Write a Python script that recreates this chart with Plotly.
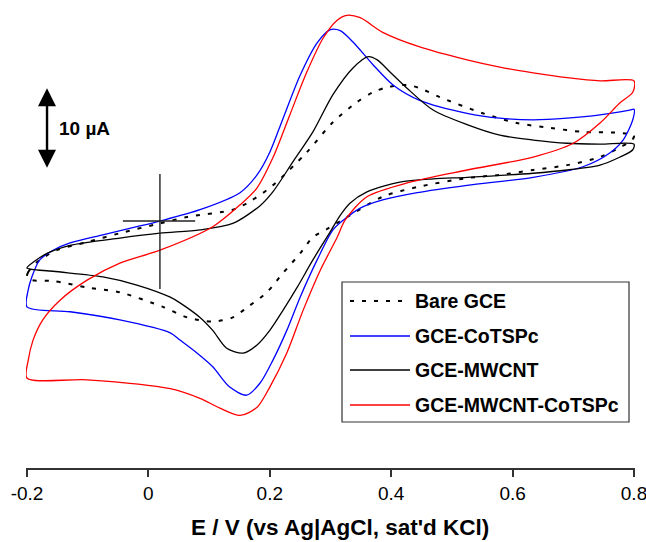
import plotly.graph_objects as go

# Cyclic voltammograms: potential E (V vs Ag|AgCl) and current I (µA).
# Each loop starts at -0.2 V, sweeps anodically to 0.8 V and returns.

bare_E = [-0.200, -0.198, -0.184, -0.151, -0.101, -0.047, 0.019, 0.064, 0.139, 0.167,
          0.205, 0.261, 0.304, 0.344, 0.370, 0.393, 0.426, 0.447, 0.480, 0.551,
          0.607, 0.662, 0.716, 0.772, 0.800,
          0.797, 0.777, 0.744, 0.690, 0.634, 0.579, 0.525, 0.443, 0.386, 0.332,
          0.294, 0.271, 0.250, 0.222, 0.195, 0.162, 0.139, 0.106, 0.064, 0.024,
          -0.047, -0.101, -0.157, -0.192, -0.200]
bare_I = [-6.9, -6.3, -5.1, -3.6, -2.6, -1.5, -0.3, 0.5, 1.4, 2.4,
          4.4, 8.5, 12.2, 14.7, 15.9, 16.5, 16.8, 16.4, 15.3, 13.3,
          12.1, 11.5, 11.0, 10.9, 10.6,
          10.0, 9.1, 7.9, 6.9, 6.3, 5.7, 5.3, 4.2, 3.0, 0.7,
          -1.0, -2.0, -4.0, -6.4, -8.8, -10.7, -11.9, -12.4, -11.9, -10.6,
          -8.8, -8.2, -7.4, -7.3, -6.9]

cotspc_E = [-0.200, -0.198, -0.192, -0.179, -0.157, -0.129, -0.075, -0.019, 0.019, 0.085,
            0.151, 0.179, 0.200, 0.222, 0.250, 0.278, 0.299, 0.316, 0.337, 0.370,
            0.403, 0.447, 0.525, 0.579, 0.634, 0.690, 0.744, 0.793, 0.800,
            0.798, 0.782, 0.760, 0.716, 0.634, 0.525, 0.443, 0.386, 0.349, 0.321,
            0.304, 0.278, 0.250, 0.228, 0.205, 0.184, 0.162, 0.134, 0.106, 0.080,
            0.052, 0.036, -0.047, -0.129, -0.200]
cotspc_I = [-10.6, -8.5, -6.9, -4.8, -3.6, -2.7, -1.7, -0.7, 0.0, 1.4,
            3.5, 5.7, 8.5, 12.7, 18.0, 22.0, 23.6, 23.5, 22.1, 19.3,
            16.8, 14.9, 13.3, 12.7, 12.5, 12.7, 13.1, 13.7, 13.8,
            12.5, 10.0, 8.4, 6.7, 5.4, 4.4, 3.5, 2.6, 1.6, 0.1,
            -1.1, -4.8, -9.4, -13.5, -17.2, -20.0, -21.5, -20.5, -18.0, -16.3,
            -14.7, -13.8, -12.2, -11.2, -10.6]

mwcnt_E = [-0.200, -0.190, -0.167, -0.129, -0.047, 0.019, 0.085, 0.139, 0.184, 0.205,
           0.238, 0.271, 0.304, 0.337, 0.362, 0.377, 0.398, 0.426, 0.469, 0.525,
           0.579, 0.634, 0.690, 0.744, 0.800,
           0.798, 0.777, 0.744, 0.690, 0.634, 0.525, 0.469, 0.414, 0.360, 0.332,
           0.316, 0.299, 0.271, 0.245, 0.222, 0.200, 0.179, 0.156, 0.129, 0.106,
           0.085, 0.052, 0.036, -0.019, -0.075, -0.157, -0.200]
mwcnt_I = [-5.8, -5.1, -4.0, -3.0, -2.1, -1.5, -1.1, -0.3, 1.9, 3.6,
           7.3, 11.0, 15.6, 18.9, 20.3, 19.9, 18.4, 16.4, 13.7, 11.9,
           10.6, 10.0, 9.6, 9.5, 9.5,
           8.8, 7.9, 6.9, 6.3, 5.9, 5.4, 5.2, 4.8, 3.6, 2.2,
           0.7, -1.4, -4.8, -8.2, -11.0, -13.5, -15.3, -16.3, -15.7, -13.5,
           -11.9, -10.1, -9.4, -7.9, -6.9, -6.2, -5.8]

mwcnt_cotspc_E = [-0.200, -0.198, -0.190, -0.174, -0.146, -0.101, -0.047, 0.019, 0.106, 0.151,
                  0.179, 0.205, 0.233, 0.261, 0.288, 0.311, 0.327, 0.349, 0.386, 0.447,
                  0.525, 0.579, 0.634, 0.690, 0.744, 0.800,
                  0.798, 0.777, 0.744, 0.700, 0.634, 0.525, 0.431, 0.360, 0.324, 0.311,
                  0.283, 0.255, 0.228, 0.200, 0.179, 0.151, 0.118, 0.085, 0.036, -0.101,
                  -0.200]
mwcnt_cotspc_I = [-19.4, -17.2, -14.7, -12.2, -9.8, -7.3, -5.2, -3.6, -0.7, 2.0,
                  4.1, 7.8, 13.1, 18.4, 22.6, 24.8, 25.4, 25.1, 23.3, 21.5,
                  19.9, 19.0, 18.3, 17.7, 17.3, 17.3,
                  15.9, 14.6, 12.1, 9.6, 7.9, 6.3, 4.8, 3.0, 0.1, -2.0,
                  -6.1, -11.0, -16.3, -20.5, -23.0, -24.0, -23.1, -21.9, -20.7, -19.6,
                  -19.4]

series = [
    ("Bare GCE", bare_E, bare_I, "black", "4px,8px", 2.0),
    ("GCE-CoTSPc", cotspc_E, cotspc_I, "#0000ff", "solid", 1.3),
    ("GCE-MWCNT", mwcnt_E, mwcnt_I, "black", "solid", 1.3),
    ("GCE-MWCNT-CoTSPc", mwcnt_cotspc_E, mwcnt_cotspc_I, "#ff0000", "solid", 1.3),
]

x_ticks = [-0.2, 0, 0.2, 0.4, 0.6, 0.8]
x_tick_text = ["-0.2", "0", "0.2", "0.4", "0.6", "0.8"]

# current scale bar (µA) and reference cross
scale_bar = (6.4, 16.4)
cross_E, cross_I = 0.019, 0.0

FONT = "Liberation Sans, Arial, Helvetica, sans-serif"

# plot-area geometry in pixels (for paper-referenced decorations)
W, H = 646, 542
ML, MR, MT, MB = 26, 11, 5, 74
PW, PH = W - ML - MR, H - MT - MB


def px(xpix):
    return (xpix - ML) / PW


def py(ypix):
    return (H - MB - ypix) / PH


fig = go.Figure()
for name, E, I, color, dash, width in series:
    fig.add_trace(go.Scatter(
        x=E, y=I, mode="lines", name=name, showlegend=False,
        line=dict(color=color, width=width, dash=dash, shape="spline", smoothing=0.8),
    ))

# reference cross
fig.add_shape(type="line", x0=cross_E, x1=cross_E, y0=-8.4, y1=5.8,
              line=dict(color="#222", width=1.4))
fig.add_shape(type="line", x0=-0.042, x1=0.077, y0=cross_I, y1=cross_I,
              line=dict(color="#222", width=1.4))

# 10 µA scale bar with arrowheads at both ends
fig.add_annotation(x=-0.167, y=scale_bar[1], ax=-0.167, ay=scale_bar[0],
                   axref="x", ayref="y", xref="x", yref="y", text="",
                   showarrow=True, arrowhead=2, arrowside="end+start",
                   arrowsize=1.5, arrowwidth=2.4, arrowcolor="black", standoff=0,
                   startstandoff=0)
fig.add_annotation(x=-0.150, y=sum(scale_bar) / 2, xref="x", yref="y",
                   text="<b>10 µA</b>", showarrow=False, xanchor="left",
                   font=dict(family=FONT, size=19, color="black"))

# legend box
fig.add_shape(type="rect", xref="paper", yref="paper",
              x0=px(342), x1=px(629), y0=py(422), y1=py(282),
              line=dict(color="#333", width=1.2), fillcolor="white", layer="above")
row_y = [301, 336, 370, 405]
for (name, E, I, color, dash, width), ry in zip(series, row_y):
    fig.add_shape(type="line", xref="paper", yref="paper",
                  x0=px(350), x1=px(410), y0=py(ry), y1=py(ry),
                  line=dict(color=color, width=width, dash=dash), layer="above")
    fig.add_annotation(xref="paper", yref="paper", x=px(413), y=py(ry),
                       text=f"<b>{name}</b>", showarrow=False, xanchor="left",
                       yanchor="middle", font=dict(family=FONT, size=19.5, color="black"))

# x-axis title
fig.add_annotation(xref="paper", yref="paper", x=px(339.5), y=py(541),
                   text="<b>E / V (vs Ag|AgCl, sat'd KCl)</b>", showarrow=False,
                   xanchor="center", yanchor="bottom", borderpad=0,
                   font=dict(family=FONT, size=22.5, color="black"))

fig.update_layout(
    width=W, height=H,
    margin=dict(l=ML, r=MR, t=MT, b=MB, autoexpand=False),
    paper_bgcolor="white", plot_bgcolor="white",
    font=dict(family=FONT, color="black"),
    xaxis=dict(
        range=[-0.20165, 0.80165], tickvals=x_ticks, ticktext=x_tick_text,
        showline=True, linecolor="#333", linewidth=1.5,
        ticks="outside", ticklen=7, tickwidth=1.5, tickcolor="#333",
        showgrid=False, zeroline=False, tickfont=dict(size=19, family=FONT),
        ticklabeloverflow="allow", automargin=False,
    ),
    yaxis=dict(range=[-30.49, 26.67], visible=False, showgrid=False, zeroline=False,
               automargin=False),
)

fig.write_html("out.html")
